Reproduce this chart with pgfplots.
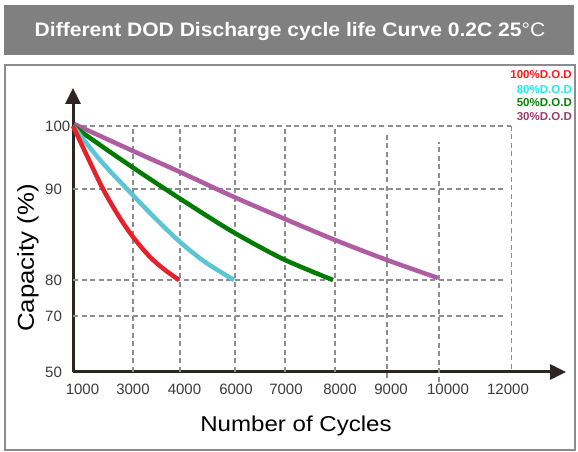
\documentclass[border=0pt]{standalone}
\usepackage{fontspec}
\setmainfont{Liberation Sans}
\newfontfamily\widefont[FakeStretch=1.12]{Liberation Sans}
\newfontfamily\hdrfont[FakeStretch=1.08]{Liberation Sans}
\usepackage{pgfplots}
\pgfplotsset{compat=1.18}
\usetikzlibrary{arrows.meta}
\definecolor{hdr}{HTML}{808080}
\definecolor{boxc}{HTML}{8C8C8C}
\definecolor{axisc}{HTML}{2B2523}
\definecolor{gridc}{HTML}{8E8E8E}
\definecolor{tickc}{HTML}{3A3A3A}
\definecolor{cred}{HTML}{E5212B}
\definecolor{ccyan}{HTML}{5CC4D2}
\definecolor{cgreen}{HTML}{007A00}
\definecolor{cpurple}{HTML}{B05CA2}
\definecolor{lred}{HTML}{FF1A1A}
\definecolor{lcyan}{HTML}{22E8EE}
\definecolor{lgreen}{HTML}{0B800B}
\definecolor{lpurple}{HTML}{9C3A6E}
\tikzset{gridline/.style={gridc, line width=1.2pt, dash pattern=on 5pt off 3.5pt}}
\begin{document}
\begin{tikzpicture}
\useasboundingbox (0pt,0pt) rectangle (578pt,452pt);
% header bar
\fill[hdr] (4pt,397pt) rectangle (574pt,447pt);
\node[text=white, font=\hdrfont\fontsize{19.5}{21}\selectfont\bfseries] at (290pt,420pt) {Different DOD Discharge cycle life Curve 0.2C 25{\mdseries °C}};
% frame
\draw[boxc, line width=2pt] (5pt,2pt) rectangle (575pt,387pt);
\begin{axis}[
  at={(73pt,80pt)}, anchor=south west,
  x=1pt, y=1pt, xmin=0, xmax=493, ymin=0, ymax=284,
  axis lines=left, clip=false,
  axis line style={line width=3pt, draw=axisc, -{Triangle[length=16pt,width=15pt]}},
  xtick={9.5,60,111.5,163,213,267,318,375,435},
  xticklabels={1000,3000,4000,6000,7000,8000,9000,10000,12000},
  ytick={0,56,92,183,246}, yticklabels={50,70,80,90,100},
  major tick length=0pt, tick style={draw=none},
  xticklabel style={anchor=center, yshift=-17pt, font=\fontsize{15}{17}\selectfont, text=tickc, inner sep=0pt},
  yticklabel style={anchor=west, xshift=-28pt, font=\fontsize{15}{17}\selectfont, text=tickc, inner sep=0pt},
]
% grid
\draw[gridline] (axis cs:0,246) -- (axis cs:438,246);
\draw[gridline] (axis cs:0,183) -- (axis cs:430,183);
\draw[gridline] (axis cs:0,92) -- (axis cs:430,92);
\draw[gridline] (axis cs:0,56) -- (axis cs:430,56);
\draw[gridline] (axis cs:60,0) -- (axis cs:60,246);
\draw[gridline] (axis cs:107,0) -- (axis cs:107,246);
\draw[gridline] (axis cs:162,0) -- (axis cs:162,246);
\draw[gridline] (axis cs:212,0) -- (axis cs:212,246);
\draw[gridline] (axis cs:262,0) -- (axis cs:262,246);
\draw[gridline] (axis cs:314,-6) -- (axis cs:314,238);
\draw[gridline] (axis cs:366,-10) -- (axis cs:366,230);
\draw[gridline, line width=1.4pt] (axis cs:438.4,3) -- (axis cs:438.4,246);
% curves (positions along the drawn axes)
\addplot[cpurple, line width=4.5pt, smooth] coordinates {(1,248) (60,221) (107,200) (161,175) (212,153) (262,132) (314,112) (365,94)};
\addplot[cgreen, line width=4.5pt, smooth] coordinates {(0,246) (40,218) (80,191) (120,165) (160,140) (210,113) (260,92)};
\addplot[ccyan, line width=4.5pt, smooth] coordinates {(0,246) (27,212) (54,183) (82,154) (107,130) (132,110) (161,92)};
\addplot[cred, line width=4.5pt, smooth] coordinates {(0,246) (15,214) (30,183) (45,157) (60,135) (77,115) (92,102) (106,92)};
\end{axis}
% axis titles
\node[rotate=90, font=\widefont\fontsize{23}{25}\selectfont] at (28pt,194pt) {Capacity (\%)};
\node[font=\widefont\fontsize{21.5}{24}\selectfont] at (296pt,26.5pt) {Number of Cycles};
% legend
\node[anchor=east, inner sep=0pt, text=lred, font=\bfseries\fontsize{11.5}{13}\selectfont] at (572pt,377pt) {100\%D.O.D};
\node[anchor=east, inner sep=0pt, text=lcyan, font=\bfseries\fontsize{11.5}{13}\selectfont] at (572pt,362pt) {80\%D.O.D};
\node[anchor=east, inner sep=0pt, text=lgreen, font=\bfseries\fontsize{11.5}{13}\selectfont] at (572pt,349pt) {50\%D.O.D};
\node[anchor=east, inner sep=0pt, text=lpurple, font=\bfseries\fontsize{11.5}{13}\selectfont] at (572pt,335pt) {30\%D.O.D};
\end{tikzpicture}
\end{document}
